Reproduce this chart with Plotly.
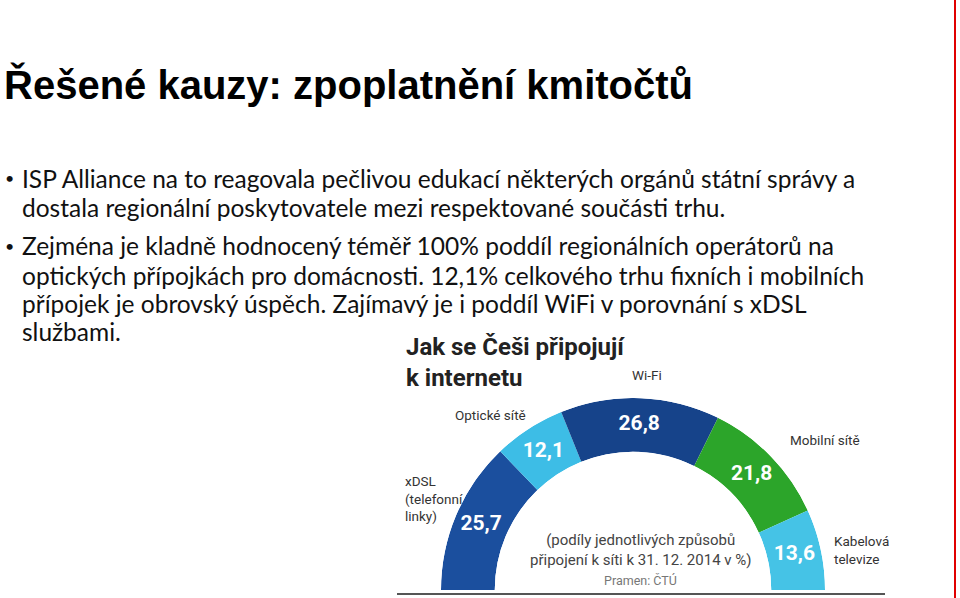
import numpy as np
import plotly.graph_objects as go

# data
categories = ["xDSL (telefonní linky)", "Optické sítě", "Wi-Fi", "Mobilní sítě", "Kabelová televize"]
label_text = ["xDSL<br>(telefonní<br>linky)", "Optické sítě", "Wi-Fi", "Mobilní sítě", "Kabelová<br>televize"]
values = [25.7, 12.1, 26.8, 21.8, 13.6]
value_text = ["25,7", "12,1", "26,8", "21,8", "13,6"]
colors = ["#1b4f9e", "#3dbde6", "#16438a", "#2ca52a", "#45c3e6"]

slide_title = "Řešené kauzy: zpoplatnění kmitočtů"
bullets = [
	["ISP Alliance na to reagovala pečlivou edukací některých orgánů státní správy a",
	 "dostala regionální poskytovatele mezi respektované součásti trhu."],
	["Zejména je kladně hodnocený téměř 100% poddíl regionálních operátorů na",
	 "optických přípojkách pro domácnosti. 12,1% celkového trhu fixních i mobilních",
	 "přípojek je obrovský úspěch. Zajímavý je i poddíl WiFi v porovnání s xDSL",
	 "službami."],
]
chart_title = "Jak se Češi připojují<br>k internetu"
chart_note = "(podíly jednotlivých způsobů<br>připojení k síti k 31. 12. 2014 v %)"
chart_source = "Pramen: ČTÚ"

W, H = 960, 598
def px(x): return x / W
def py(y): return 1 - y / H

vals = np.array(values)
start = np.cumsum(vals) - vals
theta = (start + vals / 2) * 1.8
width = vals * 1.8

narrow = "Roboto, sans-serif"

fig = go.Figure()
fig.add_trace(go.Barpolar(
	r = [1] * len(values), theta = theta, width = width,
	marker = dict(color = colors, line = dict(width = 0)),
	hovertext = categories, hoverinfo = "text", showlegend = False
))
fig.add_trace(go.Scatterpolar(
	r = [0.5] * len(values), theta = theta, mode = "text", text = value_text,
	textfont = dict(family = narrow, size = 21, color = "white", weight = "bold"),
	hoverinfo = "skip", showlegend = False, cliponaxis = False
))

cx, R, base = 633, 192, 590
fig.update_layout(
	width = W, height = H,
	margin = dict(l = 0, r = 0, t = 0, b = 0),
	paper_bgcolor = "white",
	polar = dict(
		domain = dict(x = [px(cx - R), px(cx + R)], y = [py(base), py(base - R)]),
		sector = [0, 180],
		hole = 0.72,
		bgcolor = "rgba(0,0,0,0)",
		radialaxis = dict(visible = False, range = [0, 1]),
		angularaxis = dict(visible = False, rotation = 180, direction = "clockwise")
	),
	bargap = 0
)

ann = []
ann.append(dict(x = px(2), y = py(84), text = slide_title, xanchor = "left", yanchor = "middle",
	font = dict(family = "Liberation Sans, Arial", size = 40, color = "black", weight = "bold")))

line_y = [[178, 207], [246, 275, 303, 331]]
for lines, ys in zip(bullets, line_y):
	ann.append(dict(x = px(3), y = py(ys[0] - 1), text = "•", xanchor = "left", yanchor = "middle",
		font = dict(family = "Lato", size = 16, color = "#111")))
	for t, y in zip(lines, ys):
		ann.append(dict(x = px(20), y = py(y), text = t, xanchor = "left", yanchor = "middle",
			font = dict(family = "Lato", size = 24.5, color = "#111")))

ann.append(dict(x = px(404), y = py(362), text = chart_title, xanchor = "left", yanchor = "middle", align = "left",
	font = dict(family = narrow, size = 24, color = "#222", weight = "bold")))

label_pos = [(403, 498, "left"), (453, 415, "left"), (647, 375, "center"), (788, 440, "left"), (832, 550, "left")]
for t, (x, y, a) in zip(label_text, label_pos):
	ann.append(dict(x = px(x), y = py(y), text = t, xanchor = a, yanchor = "middle", align = "left",
		font = dict(family = narrow, size = 13.5, color = "#333")))

ann.append(dict(x = px(640), y = py(550), text = chart_note, xanchor = "center", yanchor = "middle",
	font = dict(family = narrow, size = 15, color = "#444")))
ann.append(dict(x = px(640), y = py(580), text = chart_source, xanchor = "center", yanchor = "middle",
	font = dict(family = narrow, size = 12.5, color = "#777")))

for a in ann:
	a.update(xref = "paper", yref = "paper", showarrow = False)
fig.update_layout(annotations = ann)

fig.add_shape(type = "line", xref = "paper", yref = "paper", x0 = px(397), x1 = px(885), y0 = py(594), y1 = py(594),
	line = dict(color = "#555", width = 2))
fig.add_shape(type = "line", xref = "paper", yref = "paper", x0 = px(955), x1 = px(955), y0 = 0, y1 = 1,
	line = dict(color = "#e00000", width = 2))

fig.write_html("out.html", config = {"displayModeBar": False},
	post_script = "document.body.style.margin = '0';")
